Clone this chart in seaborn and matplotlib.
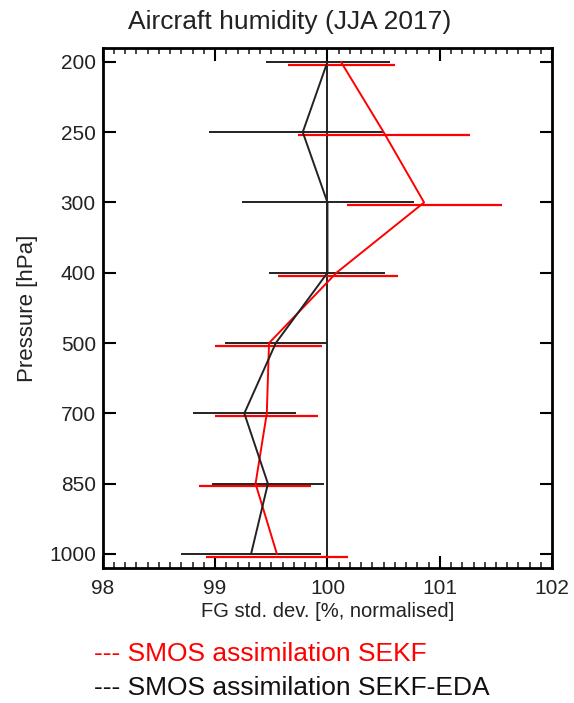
import matplotlib
matplotlib.use("Agg")
import matplotlib.pyplot as plt
import seaborn as sns
import pandas as pd
from matplotlib.ticker import MultipleLocator

# Pressure levels (plotted at equal spacing)
levels = [200, 250, 300, 400, 500, 700, 850, 1000]

# SMOS assimilation SEKF (red)
sekf_mean = [100.12, 100.50, 100.86, 100.08, 99.48, 99.46, 99.36, 99.55]
sekf_low = [99.65, 99.74, 100.17, 99.56, 99.00, 99.00, 98.86, 98.92]
sekf_high = [100.60, 101.27, 101.55, 100.63, 99.95, 99.92, 99.85, 100.18]

# SMOS assimilation SEKF-EDA (black)
eda_mean = [100.00, 99.78, 100.00, 100.00, 99.54, 99.26, 99.47, 99.32]
eda_low = [99.45, 98.95, 99.24, 99.48, 99.09, 98.80, 98.97, 98.70]
eda_high = [100.56, 100.49, 100.77, 100.51, 99.99, 99.72, 99.97, 99.94]

sns.set_style("ticks")
plt.rcParams['font.family'] = ['Liberation Sans', 'DejaVu Sans']

fig = plt.figure(figsize=(5.74, 7.03), dpi=100)
ax = fig.add_axes([0.179, 0.192, 0.783, 0.740])

pos = list(range(len(levels)))
df = pd.DataFrame({
    "pos": pos + pos,
    "value": sekf_mean + eda_mean,
    "run": ["SEKF"] * len(levels) + ["SEKF-EDA"] * len(levels),
})

# reference line at 100
ax.axvline(100, color="black", lw=1.2, zorder=1)

# error bars (red ones drawn slightly below the level)
ax.hlines([p + 0.04 for p in pos], sekf_low, sekf_high, color="red", lw=1.6, zorder=2)
ax.hlines(pos, eda_low, eda_high, color="#222222", lw=1.4, zorder=3)

sns.lineplot(data=df, x="value", y="pos", hue="run", sort=False, orient="y",
             palette={"SEKF": "red", "SEKF-EDA": "#222222"}, lw=1.4,
             legend=False, ax=ax, zorder=4)

ax.set_xlim(98, 102)
ax.set_ylim(7.2, -0.2)
ax.set_yticks(pos)
ax.set_yticklabels([str(l) for l in levels])
ax.xaxis.set_major_locator(MultipleLocator(1))
ax.xaxis.set_minor_locator(MultipleLocator(0.1))
ax.tick_params(axis="both", which="major", direction="in", top=True, right=True,
               length=9, width=1.5, labelsize=15, colors="black", pad=8,
               labelcolor="#222222")
ax.tick_params(axis="x", which="minor", direction="in", top=True, bottom=True,
               length=4, width=1.2)
ax.tick_params(axis="y", which="major", pad=5)
for s in ax.spines.values():
    s.set_linewidth(2)
    s.set_color("black")

ax.set_xlabel("FG std. dev. [%, normalised]", fontsize=14.5, labelpad=3, color="#222222")
ax.set_ylabel("Pressure [hPa]", fontsize=16, labelpad=8, color="#222222")

# title is centred on the figure, not on the axes
fig.text(0.505, 0.969, "Aircraft humidity (JJA 2017)", fontsize=19, color="#222222",
         ha="center", va="center")

fig.text(0.163, 0.070, "--- SMOS assimilation SEKF", color="red", fontsize=19, va="center")
fig.text(0.163, 0.021, "--- SMOS assimilation SEKF-EDA", color="#111111", fontsize=19, va="center")

fig.savefig("out.png", dpi=100)
